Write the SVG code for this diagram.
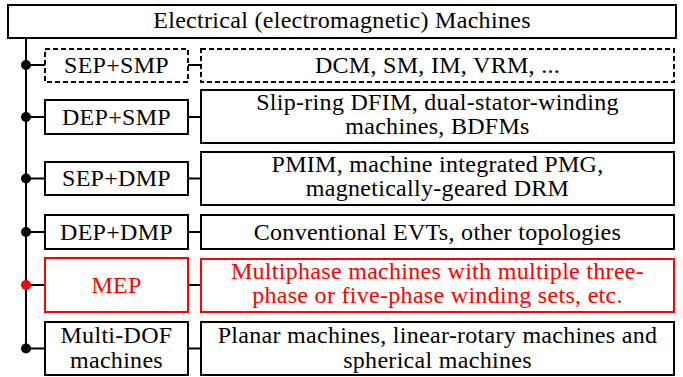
<svg xmlns="http://www.w3.org/2000/svg" width="683" height="377" viewBox="0 0 683 377">
<style>
.b{fill:#fff;stroke:#000;stroke-width:2}
.d{stroke-dasharray:5,3}
.r{stroke:#f00}
.c{stroke:#000;stroke-width:2;fill:none}
</style>
<rect width="683" height="377" fill="#fff"/>
<g id="connectors">
<line class="c" x1="26" y1="38" x2="26" y2="348.5"/>
<line class="c" x1="26" y1="65" x2="45" y2="65"/>
<line class="c" x1="188" y1="65" x2="201" y2="65"/>
<line class="c" x1="26" y1="117" x2="45" y2="117"/>
<line class="c" x1="188" y1="117" x2="201" y2="117"/>
<line class="c" x1="26" y1="178.5" x2="45" y2="178.5"/>
<line class="c" x1="188" y1="178.5" x2="201" y2="178.5"/>
<line class="c" x1="26" y1="232" x2="45" y2="232"/>
<line class="c" x1="188" y1="232" x2="201" y2="232"/>
<line class="c r" x1="26" y1="285" x2="45" y2="285"/>
<line class="c r" x1="188" y1="285" x2="201" y2="285"/>
<line class="c" x1="26" y1="348.5" x2="45" y2="348.5"/>
<line class="c" x1="188" y1="348.5" x2="201" y2="348.5"/>
<circle cx="26" cy="65" r="5" fill="#000"/>
<circle cx="26" cy="117" r="5" fill="#000"/>
<circle cx="26" cy="178.5" r="5" fill="#000"/>
<circle cx="26" cy="232" r="5" fill="#000"/>
<circle cx="26" cy="285" r="5" fill="#f00"/>
<circle cx="26" cy="348.5" r="5" fill="#000"/>
</g>
<g id="title">
<rect class="b" x="8" y="5" width="668" height="33"/>
<text x="342" y="28" font-family="Liberation Serif" style="font-family:'Liberation Serif'" font-size="24" letter-spacing="0.3" text-anchor="middle">Electrical (electromagnetic) Machines</text>
</g>
<g id="sep-smp">
<rect class="b d" x="45" y="49" width="143" height="33"/>
<text x="116.5" y="73" font-family="Liberation Serif" style="font-family:'Liberation Serif'" font-size="24" letter-spacing="0.3" text-anchor="middle">SEP+SMP</text>
</g>
<g id="sep-smp-desc">
<rect class="b d" x="201" y="49" width="473" height="33"/>
<text x="437.5" y="73" font-family="Liberation Serif" style="font-family:'Liberation Serif'" font-size="24" letter-spacing="0.3" text-anchor="middle">DCM, SM, IM, VRM, ...</text>
</g>
<g id="dep-smp">
<rect class="b" x="45" y="100" width="143" height="34"/>
<text x="116.5" y="125" font-family="Liberation Serif" style="font-family:'Liberation Serif'" font-size="24" letter-spacing="0.3" text-anchor="middle">DEP+SMP</text>
</g>
<g id="dep-smp-desc">
<rect class="b" x="201" y="90" width="473" height="53"/>
<text x="437.5" y="110" font-family="Liberation Serif" style="font-family:'Liberation Serif'" font-size="24" letter-spacing="0.3" text-anchor="middle">Slip-ring DFIM, dual-stator-winding</text>
<text x="437.5" y="134" font-family="Liberation Serif" style="font-family:'Liberation Serif'" font-size="24" letter-spacing="0.3" text-anchor="middle">machines, BDFMs</text>
</g>
<g id="sep-dmp">
<rect class="b" x="45" y="162" width="143" height="33"/>
<text x="116.5" y="186" font-family="Liberation Serif" style="font-family:'Liberation Serif'" font-size="24" letter-spacing="0.3" text-anchor="middle">SEP+DMP</text>
</g>
<g id="sep-dmp-desc">
<rect class="b" x="201" y="152" width="473" height="53"/>
<text x="437.5" y="172" font-family="Liberation Serif" style="font-family:'Liberation Serif'" font-size="24" letter-spacing="0.3" text-anchor="middle">PMIM, machine integrated PMG,</text>
<text x="437.5" y="196" font-family="Liberation Serif" style="font-family:'Liberation Serif'" font-size="24" letter-spacing="0.3" text-anchor="middle">magnetically-geared DRM</text>
</g>
<g id="dep-dmp">
<rect class="b" x="45" y="215" width="143" height="34"/>
<text x="116.5" y="240" font-family="Liberation Serif" style="font-family:'Liberation Serif'" font-size="24" letter-spacing="0.3" text-anchor="middle">DEP+DMP</text>
</g>
<g id="dep-dmp-desc">
<rect class="b" x="201" y="215" width="473" height="34"/>
<text x="437.5" y="240" font-family="Liberation Serif" style="font-family:'Liberation Serif'" font-size="24" letter-spacing="0.3" text-anchor="middle">Conventional EVTs, other topologies</text>
</g>
<g id="mep">
<rect class="b r" x="45" y="258" width="143" height="54"/>
<text x="116.5" y="293" font-family="Liberation Serif" style="font-family:'Liberation Serif'" font-size="24" letter-spacing="0.3" text-anchor="middle" fill="#f00">MEP</text>
</g>
<g id="mep-desc">
<rect class="b r" x="201" y="259" width="473" height="53"/>
<text x="437.5" y="279" font-family="Liberation Serif" style="font-family:'Liberation Serif'" font-size="24" letter-spacing="0.3" text-anchor="middle" fill="#f00">Multiphase machines with multiple three-</text>
<text x="437.5" y="303" font-family="Liberation Serif" style="font-family:'Liberation Serif'" font-size="24" letter-spacing="0.3" text-anchor="middle" fill="#f00">phase or five-phase winding sets, etc.</text>
</g>
<g id="multi-dof">
<rect class="b" x="45" y="322" width="143" height="53"/>
<text x="116.5" y="343" font-family="Liberation Serif" style="font-family:'Liberation Serif'" font-size="24" letter-spacing="0.3" text-anchor="middle">Multi-DOF</text>
<text x="116.5" y="368" font-family="Liberation Serif" style="font-family:'Liberation Serif'" font-size="24" letter-spacing="0.3" text-anchor="middle">machines</text>
</g>
<g id="multi-dof-desc">
<rect class="b" x="201" y="322" width="473" height="53"/>
<text x="437.5" y="343" font-family="Liberation Serif" style="font-family:'Liberation Serif'" font-size="24" letter-spacing="0.3" text-anchor="middle">Planar machines, linear-rotary machines and</text>
<text x="437.5" y="368" font-family="Liberation Serif" style="font-family:'Liberation Serif'" font-size="24" letter-spacing="0.3" text-anchor="middle">spherical machines</text>
</g>
</svg>
